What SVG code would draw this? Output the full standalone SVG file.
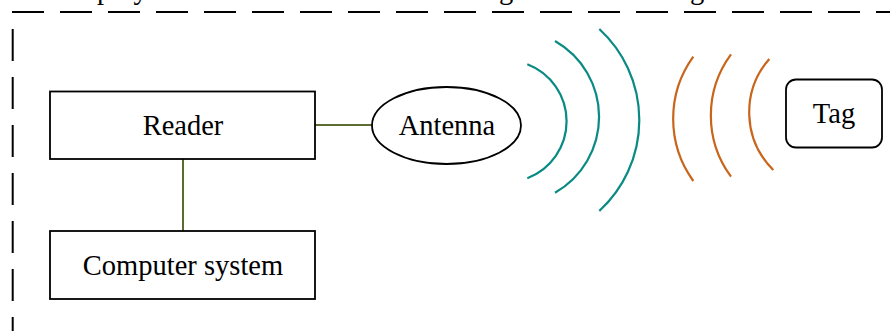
<svg xmlns="http://www.w3.org/2000/svg" width="890" height="331" viewBox="0 0 890 331">
<style>
.box{fill:#fff;stroke:#000;stroke-width:1.8}
.lbl{font-family:"Liberation Serif","Times New Roman",serif;font-size:28.5px;fill:#000;text-anchor:middle}
.cut{font-family:"Liberation Serif","Times New Roman",serif;font-size:28.5px;fill:#000}
.frame{stroke:#000;stroke-width:2;stroke-dasharray:32 16;fill:none}
.conn{stroke:#5C6B2E;stroke-width:2;fill:none}
.tx{stroke:#0A8A84;stroke-width:2.2;fill:none}
.rx{stroke:#C8651B;stroke-width:2.2;fill:none}
</style>
<rect width="890" height="331" fill="#fff"/>
<g id="frame">
<line class="frame" x1="12" y1="12" x2="890" y2="12"/>
<line class="frame" x1="12.7" y1="29" x2="12.7" y2="331"/>
<text class="cut" x="97" y="-1">ploy</text>
<text class="cut" x="499" y="-1">g</text>
<text class="cut" x="690" y="-1">g</text>
</g>
<g id="connectors">
<line class="conn" x1="183" y1="159" x2="183" y2="231"/>
<line class="conn" x1="315" y1="125" x2="372" y2="125"/>
</g>
<g id="reader">
<rect class="box" x="50" y="91.5" width="265" height="67.5"/>
<text class="lbl" x="183" y="135">Reader</text>
</g>
<g id="computer">
<rect class="box" x="50" y="231" width="265" height="68"/>
<text class="lbl" x="183" y="275">Computer system</text>
</g>
<g id="antenna">
<ellipse class="box" cx="446.5" cy="125.5" rx="74.5" ry="38.5"/>
<text class="lbl" x="447" y="135">Antenna</text>
</g>
<g id="waves-out">
<path class="tx" d="M527.3,64.3 A61,61 0 0 1 527.3,178.3"/>
<path class="tx" d="M555,41 A87.3,87.3 0 0 1 555,192.7"/>
<path class="tx" d="M599.3,29 A123.5,123.5 0 0 1 599.3,211"/>
</g>
<g id="waves-back">
<path class="rx" d="M693.3,56.7 A106,106 0 0 0 693.3,181"/>
<path class="rx" d="M731,54.3 A103,103 0 0 0 731,176.7"/>
<path class="rx" d="M769.3,59 A81,81 0 0 0 773.3,170"/>
</g>
<g id="tag">
<rect class="box" x="786" y="79.5" width="96" height="68" rx="10" ry="10"/>
<text class="lbl" x="834" y="123">Tag</text>
</g>
</svg>
